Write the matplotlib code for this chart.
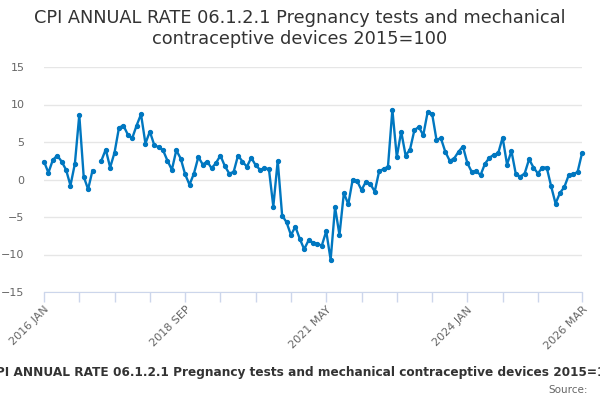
import numpy as np
import pandas as pd
import matplotlib.pyplot as plt

title = "CPI ANNUAL RATE 06.1.2.1 Pregnancy tests and mechanical\ncontraceptive devices 2015=100"
caption = "CPI ANNUAL RATE 06.1.2.1 Pregnancy tests and mechanical contraceptive devices 2015=100"

months = pd.date_range("2016-01-01", periods=123, freq="MS")
month_labels = [d.strftime("%Y %b").upper() for d in months]

# annual rate, % (2017 JAN missing)
values = [
    2.4, 0.9, 2.6, 3.2, 2.4, 1.3, -0.8, 2.1, 8.6, 0.4, -1.3, 1.2,
    np.nan, 2.5, 4.0, 1.6, 3.6, 6.9, 7.2, 6.0, 5.5, 7.2, 8.7, 4.8,
    6.4, 4.6, 4.3, 3.9, 2.5, 1.3, 3.9, 2.8, 0.7, -0.7, 0.8, 3.0,
    2.0, 2.4, 1.5, 2.2, 3.2, 1.8, 0.8, 1.0, 3.2, 2.4, 1.7, 2.9,
    1.9, 1.3, 1.5, 1.4, -3.6, 2.5, -4.8, -5.7, -7.4, -6.3, -7.9, -9.3,
    -8.1, -8.4, -8.6, -8.8, -6.9, -10.7, -3.7, -7.4, -1.8, -3.3, 0.0, -0.2,
    -1.4, -0.3, -0.6, -1.6, 1.1, 1.4, 1.7, 9.3, 3.0, 6.4, 3.2, 4.0,
    6.6, 7.0, 5.9, 9.0, 8.8, 5.3, 5.5, 3.7, 2.5, 2.8, 3.7, 4.4,
    2.2, 1.0, 1.1, 0.6, 2.1, 2.9, 3.3, 3.5, 5.6, 2.0, 3.8, 0.7,
    0.4, 0.8, 2.7, 1.6, 0.8, 1.6, 1.6, -0.9, -3.2, -1.8, -1.0, 0.6,
    0.7, 1.0, 3.5,
]

x = np.arange(len(values))
y = np.array(values, dtype=float)

fig = plt.figure(figsize=(6, 4), dpi=100)
ax = fig.add_axes([44 / 600, 108 / 400, 538 / 600, 225 / 400])

ax.plot(x, y, color="#0077c0", lw=1.7, marker="o", ms=2.8, clip_on=False, zorder=3)

ax.set_xlim(0, len(values) - 1)
ax.set_ylim(-15, 15)
ax.set_yticks(np.arange(-15, 16, 5))
ax.grid(axis="y", color="#e6e6e6", lw=1)
ax.set_axisbelow(True)

ticks = list(range(0, 120, 8)) + [len(values) - 1]
ax.set_xticks(ticks)
ax.set_xticklabels([month_labels[t] if (t % 32 == 0 or t == len(values) - 1) else "" for t in ticks],
                   rotation=45, ha="right", rotation_mode="anchor")

for s in ["top", "right", "left"]:
    ax.spines[s].set_visible(False)
ax.spines["bottom"].set_color("#ccd6eb")
ax.tick_params(axis="x", colors="#ccd6eb", length=7, width=1, labelcolor="#666666", labelsize=8, pad=2)
ax.tick_params(axis="y", length=0, labelcolor="#666666", labelsize=8, pad=14)

fig.text(0.5, 0.978, title, ha="center", va="top", fontsize=12.8, color="#333333", linespacing=1.2)
fig.text(0.508, 0.068, caption, ha="center", va="center", fontsize=8.75, fontweight="bold", color="#333333")
fig.text(0.98, 0.025, "Source:", ha="right", va="center", fontsize=7.5, color="#666666")

fig.savefig("out.png", dpi=100)
